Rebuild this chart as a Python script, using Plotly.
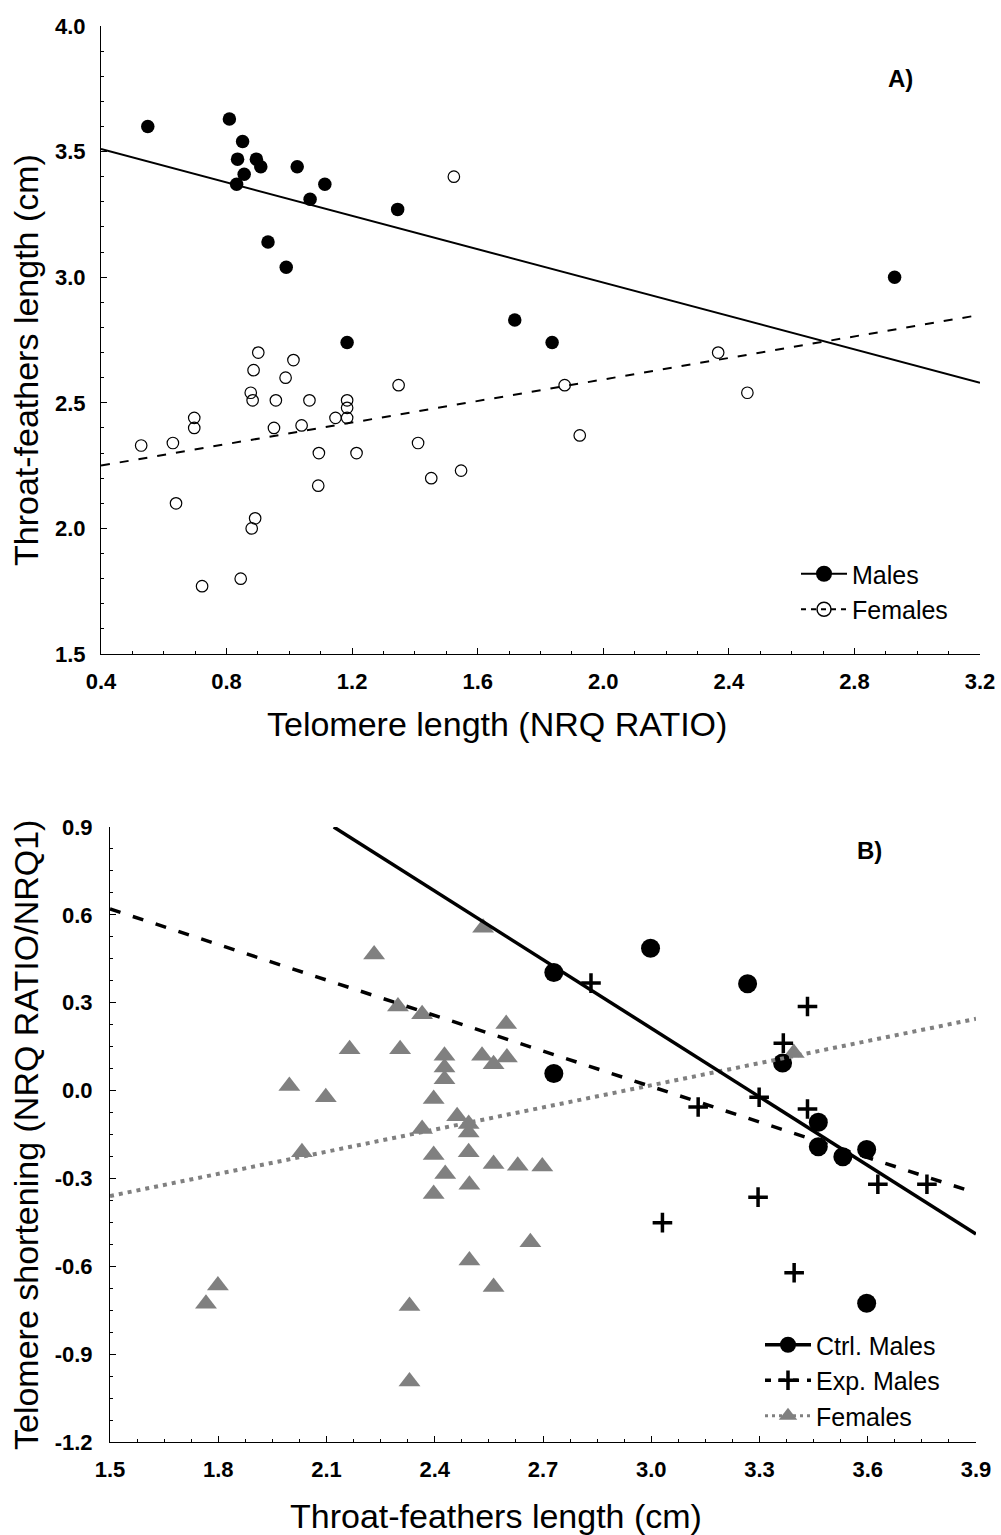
import plotly.graph_objects as go

# ---------------- Panel A data ----------------
males_tl = [0.549, 0.809, 0.851, 0.835, 0.895, 0.909, 0.856, 0.832, 1.025, 1.113,
            1.066, 1.345, 0.932, 0.990, 1.184, 1.718, 1.837, 2.928]
males_tf = [3.60, 3.63, 3.54, 3.47, 3.47, 3.44, 3.41, 3.37, 3.44, 3.37,
            3.31, 3.27, 3.14, 3.04, 2.74, 2.83, 2.74, 3.00]

females_tl = [0.901, 1.013, 0.886, 0.988, 0.877, 0.883, 0.957, 1.064, 1.184, 1.184,
              1.184, 1.147, 1.348, 0.697, 0.697, 0.951, 1.039, 0.528, 0.629, 1.094,
              1.214, 1.410, 1.092, 0.639, 0.891, 0.880, 0.845, 0.722, 1.524, 1.877,
              1.925, 1.547, 1.452, 2.366, 2.459]
females_tf = [2.70, 2.67, 2.63, 2.60, 2.54, 2.51, 2.51, 2.51, 2.51, 2.48,
              2.44, 2.44, 2.57, 2.44, 2.40, 2.40, 2.41, 2.33, 2.34, 2.30,
              2.30, 2.34, 2.17, 2.10, 2.04, 2.00, 1.80, 1.77, 3.40, 2.57,
              2.37, 2.23, 2.20, 2.70, 2.54]

fitA_x = [0.4, 3.2]
fitA_males = [3.51, 2.58]
fitA_females = [2.25, 2.85]

xA_ticks = [0.4, 0.8, 1.2, 1.6, 2.0, 2.4, 2.8, 3.2]
xA_labels = ["0.4", "0.8", "1.2", "1.6", "2.0", "2.4", "2.8", "3.2"]
yA_ticks = [1.5, 2.0, 2.5, 3.0, 3.5, 4.0]
yA_labels = ["1.5", "2.0", "2.5", "3.0", "3.5", "4.0"]

# ---------------- Panel B data ----------------
ctrl_tf = [2.730, 2.730, 2.998, 3.267, 3.364, 3.463, 3.463, 3.531, 3.597, 3.597]
ctrl_ts = [0.403, 0.058, 0.486, 0.365, 0.094, -0.108, -0.192, -0.226, -0.201, -0.726]

exp_tf = [2.833, 3.433, 3.366, 3.299, 3.130, 3.433, 3.628, 3.764, 3.296, 3.031, 3.396]
exp_ts = [0.367, 0.287, 0.162, -0.023, -0.056, -0.063, -0.320, -0.320, -0.364, -0.451, -0.622]

fem_tf = [2.534, 2.232, 2.298, 2.365, 2.598, 2.164, 2.304, 2.427, 2.427, 2.427,
          2.531, 2.563, 2.600, 1.997, 2.098, 2.397, 2.462, 2.494, 2.494, 2.365,
          2.032, 2.397, 2.494, 2.429, 2.496, 2.397, 2.563, 2.630, 2.698, 2.665,
          2.496, 2.563, 1.799, 1.766, 2.330, 2.330, 3.395]
fem_ts = [0.556, 0.465, 0.287, 0.261, 0.227, 0.141, 0.141, 0.119, 0.079, 0.039,
          0.119, 0.090, 0.113, 0.016, -0.023, -0.029, -0.088, -0.114, -0.143, -0.131,
          -0.211, -0.220, -0.211, -0.285, -0.322, -0.353, -0.251, -0.257, -0.259, -0.518,
          -0.580, -0.671, -0.666, -0.728, -0.736, -0.993, 0.128]

fit_ctrl_x = [2.12, 3.9]
fit_ctrl_y = [0.90, -0.49]
fit_exp_x = [1.5, 3.9]
fit_exp_y = [0.62, -0.35]
fit_fem_x = [1.5, 3.9]
fit_fem_y = [-0.36, 0.245]

xB_ticks = [1.5, 1.8, 2.1, 2.4, 2.7, 3.0, 3.3, 3.6, 3.9]
xB_labels = ["1.5", "1.8", "2.1", "2.4", "2.7", "3.0", "3.3", "3.6", "3.9"]
yB_ticks = [-1.2, -0.9, -0.6, -0.3, 0.0, 0.3, 0.6, 0.9]
yB_labels = ["-1.2", "-0.9", "-0.6", "-0.3", "0.0", "0.3", "0.6", "0.9"]

FONT = "Liberation Sans, Arial, sans-serif"
GRAY = "#808080"

fig = go.Figure()

# ---- Panel A traces ----
fig.add_trace(go.Scatter(x=fitA_x, y=fitA_males, mode="lines", xaxis="x", yaxis="y",
                         line=dict(color="black", width=2), showlegend=False, hoverinfo="skip"))
fig.add_trace(go.Scatter(x=fitA_x, y=fitA_females, mode="lines", xaxis="x", yaxis="y",
                         line=dict(color="black", width=2, dash="9px,10px"), showlegend=False, hoverinfo="skip"))
fig.add_trace(go.Scatter(x=males_tl, y=males_tf, mode="markers", xaxis="x", yaxis="y",
                         marker=dict(symbol="circle", size=13.5, color="black"), showlegend=False))
fig.add_trace(go.Scatter(x=females_tl, y=females_tf, mode="markers", xaxis="x", yaxis="y",
                         marker=dict(symbol="circle-open", size=11.5, color="black", line=dict(width=1.2)),
                         showlegend=False))
# legend entries A
fig.add_trace(go.Scatter(x=[None], y=[None], mode="lines+markers", name="Males", xaxis="x", yaxis="y",
                         line=dict(color="black", width=2),
                         marker=dict(symbol="circle", size=16, color="black"), legend="legend"))
fig.add_trace(go.Scatter(x=[None], y=[None], mode="lines+markers", name="Females", xaxis="x", yaxis="y",
                         line=dict(color="black", width=2, dash="5px,5px"),
                         marker=dict(symbol="circle-open", size=14, color="black", line=dict(width=1.5)),
                         legend="legend"))

# ---- Panel B traces ----
fig.add_trace(go.Scatter(x=fem_tf, y=fem_ts, mode="markers", xaxis="x2", yaxis="y2",
                         marker=dict(symbol="triangle-up", size=19, color=GRAY), showlegend=False))
fig.add_trace(go.Scatter(x=ctrl_tf, y=ctrl_ts, mode="markers", xaxis="x2", yaxis="y2",
                         marker=dict(symbol="circle", size=19, color="black"), showlegend=False))
fig.add_trace(go.Scatter(x=exp_tf, y=exp_ts, mode="markers", xaxis="x2", yaxis="y2",
                         marker=dict(symbol="cross-thin", size=14, color="black",
                                     line=dict(width=3.5, color="black")), showlegend=False))
fig.add_trace(go.Scatter(x=fit_fem_x, y=fit_fem_y, mode="lines", xaxis="x2", yaxis="y2",
                         line=dict(color=GRAY, width=4, dash="4px,5px"), showlegend=False, hoverinfo="skip"))
fig.add_trace(go.Scatter(x=fit_exp_x, y=fit_exp_y, mode="lines", xaxis="x2", yaxis="y2",
                         line=dict(color="black", width=3.5, dash="11px,13px"), showlegend=False, hoverinfo="skip"))
fig.add_trace(go.Scatter(x=fit_ctrl_x, y=fit_ctrl_y, mode="lines", xaxis="x2", yaxis="y2",
                         line=dict(color="black", width=3.5), showlegend=False, hoverinfo="skip"))
# legend entries B
fig.add_trace(go.Scatter(x=[None], y=[None], mode="lines+markers", name="Ctrl. Males", xaxis="x2", yaxis="y2",
                         line=dict(color="black", width=3.5),
                         marker=dict(symbol="circle", size=16, color="black"), legend="legend2"))
fig.add_trace(go.Scatter(x=[None], y=[None], mode="lines+markers", name="Exp. Males", xaxis="x2", yaxis="y2",
                         line=dict(color="black", width=3.5, dash="6px,8px"),
                         marker=dict(symbol="cross-thin", size=14, color="black", line=dict(width=3.5, color="black")),
                         legend="legend2"))
fig.add_trace(go.Scatter(x=[None], y=[None], mode="lines+markers", name="Females", xaxis="x2", yaxis="y2",
                         line=dict(color=GRAY, width=3, dash="3px,4px"),
                         marker=dict(symbol="triangle-up", size=16, color=GRAY), legend="legend2"))

W, H = 1001, 1535

def dom_x(a, b):
    return [a / W, b / W]

def dom_y(top, bottom):
    return [1 - bottom / H, 1 - top / H]

axis_common = dict(showgrid=False, zeroline=False, showline=True, linecolor="black", linewidth=1,
                   ticks="inside", ticklen=6, tickwidth=1, tickcolor="black", mirror=False,
                   automargin=False,
                   tickfont=dict(family=FONT, size=22, color="black", weight="bold"))

TITLE_FONT = dict(family=FONT, size=34, color="black")

def title_ann(text, px, py, angle=0):
    return dict(text=text, x=px / W, y=1 - py / H, xref="paper", yref="paper",
                xanchor="center", yanchor="middle", textangle=angle,
                showarrow=False, font=TITLE_FONT)

def panel_ann(text, px, py):
    return dict(text=text, x=px / W, y=1 - py / H, xref="paper", yref="paper",
                xanchor="center", yanchor="middle", showarrow=False,
                font=dict(family=FONT, size=24, color="black"))

fig.update_layout(
    width=W, height=H,
    margin=dict(l=0, r=0, t=0, b=0),
    paper_bgcolor="white", plot_bgcolor="white",
    font=dict(family=FONT, color="black"),
    xaxis=dict(domain=dom_x(101, 980), range=[0.4, 3.2], anchor="y",
               tickmode="array", tickvals=xA_ticks, ticktext=xA_labels,
               minor=dict(dtick=0.1, tick0=0.4, ticks="inside", ticklen=3, tickcolor="black"),
               ticklabelstandoff=8, **axis_common),
    yaxis=dict(domain=dom_y(26, 654), range=[1.5, 4.0], anchor="x",
               tickmode="array", tickvals=yA_ticks, ticktext=yA_labels,
               minor=dict(dtick=0.1, tick0=1.5, ticks="inside", ticklen=3, tickcolor="black"),
               ticklabelstandoff=10, **axis_common),
    xaxis2=dict(domain=dom_x(110, 976), range=[1.5, 3.9], anchor="y2",
                tickmode="array", tickvals=xB_ticks, ticktext=xB_labels,
                minor=dict(dtick=0.075, tick0=1.5, ticks="inside", ticklen=3, tickcolor="black"),
                ticklabelstandoff=8, **axis_common),
    yaxis2=dict(domain=dom_y(827, 1442), range=[-1.2, 0.9], anchor="x2",
                tickmode="array", tickvals=yB_ticks, ticktext=yB_labels,
                minor=dict(dtick=0.075, tick0=-1.2, ticks="inside", ticklen=3, tickcolor="black"),
                ticklabelstandoff=12, **axis_common),
    legend=dict(x=796 / W, y=1 - 551 / H, xanchor="left", yanchor="top",
                bgcolor="rgba(0,0,0,0)", font=dict(family=FONT, size=25, color="black"),
                tracegroupgap=0, itemwidth=46),
    legend2=dict(x=760 / W, y=1 - 1322 / H, xanchor="left", yanchor="top",
                 bgcolor="rgba(0,0,0,0)", font=dict(family=FONT, size=25, color="black"),
                 tracegroupgap=0, itemwidth=46),
    annotations=[
        title_ann("Telomere length (NRQ RATIO)", 497, 724),
        title_ann("Throat-feathers length (cm)", 26, 360, -90),
        title_ann("Throat-feathers length (cm)", 496, 1516),
        title_ann("Telomere shortening (NRQ RATIO/NRQ1)", 26, 1135, -90),
        panel_ann("<b>A)</b>", 900, 78),
        panel_ann("<b>B)</b>", 869, 851),
    ],
)

fig.write_html("out.html")
